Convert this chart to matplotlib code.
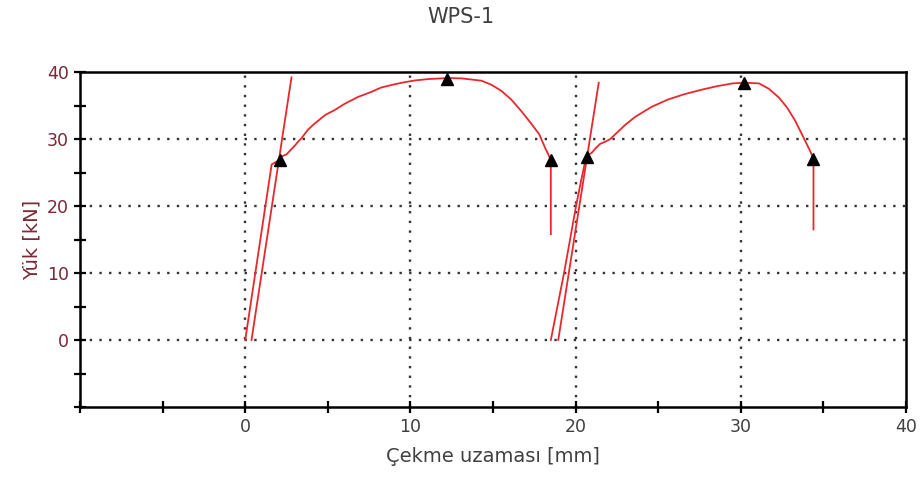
import matplotlib.pyplot as plt

# specimen 1 (x: mm, y: kN)
s1_x = [0.0, 1.6, 2.1, 2.2, 2.5, 2.8, 3.0, 3.2, 3.4, 3.8, 4.2, 4.85, 5.4, 6.05, 6.85,
        7.6, 8.25, 9.1, 9.7, 10.3, 11.1, 12.3, 13.1, 14.3, 14.9, 15.5, 16.1, 16.7,
        17.25, 17.8, 18.15, 18.5, 18.5]
s1_y = [0.0, 26.2, 26.9, 27.4, 27.7, 28.5, 29.0, 29.6, 30.1, 31.4, 32.3, 33.6, 34.3,
        35.3, 36.3, 37.0, 37.7, 38.2, 38.5, 38.75, 38.95, 39.1, 39.05, 38.7, 38.1,
        37.2, 35.9, 34.2, 32.5, 30.7, 28.7, 26.9, 15.8]
s1_fit_x = [0.38, 2.8]
s1_fit_y = [0.0, 39.2]
s1_mark_x = [2.1, 12.2, 18.5]
s1_mark_y = [26.9, 38.9, 26.9]

# specimen 2
s2_x = [18.5, 19.3, 20.05, 20.35, 20.55, 20.7, 21.0, 21.2, 21.5, 21.8, 22.1, 22.4,
        23.0, 23.6, 24.6, 25.6, 26.6, 27.7, 28.6, 29.5, 30.2, 31.1, 31.7, 32.3,
        32.8, 33.3, 33.9, 34.2, 34.4, 34.4]
s2_y = [0.0, 10.0, 20.3, 24.0, 26.3, 27.5, 28.0, 28.6, 29.3, 29.6, 30.0, 30.7,
        32.1, 33.3, 34.8, 35.9, 36.7, 37.4, 37.9, 38.3, 38.4, 38.3, 37.5, 36.2,
        34.7, 32.7, 29.7, 28.2, 27.0, 16.5]
s2_fit_x = [18.95, 21.4]
s2_fit_y = [0.0, 38.4]
s2_mark_x = [20.7, 30.2, 34.4]
s2_mark_y = [27.3, 38.3, 27.0]

xticks = [-10, 0, 10, 20, 30, 40]
xtick_labels = ["", "0", "10", "20", "30", "40"]
yticks = [-10, 0, 10, 20, 30, 40]
ytick_labels = ["", "0", "10", "20", "30", "40"]

red = "#e8282c"
label_red = "#7a2836"

fig = plt.figure(figsize=(9.21, 4.82), dpi=100)
ax = fig.add_axes([0.0869, 0.1556, 0.8968, 0.695])

for xs, ys in [(s1_x, s1_y), (s1_fit_x, s1_fit_y), (s2_x, s2_y), (s2_fit_x, s2_fit_y)]:
    ax.plot(xs, ys, color=red, lw=1.3, zorder=3)
ax.plot(s1_mark_x, s1_mark_y, "^", color="black", ms=8, zorder=4)
ax.plot(s2_mark_x, s2_mark_y, "^", color="black", ms=8, zorder=4)

ax.set_xlim(-10, 40)
ax.set_ylim(-10, 40)
ax.set_xticks(xticks, xtick_labels)
ax.set_yticks(yticks, ytick_labels)
ax.set_xticks(range(-5, 40, 10), minor=True)
ax.set_yticks(range(-5, 40, 10), minor=True)
ax.tick_params(which="both", direction="inout", length=9, width=1.6, labelsize=12.5)
ax.tick_params(axis="y", colors="black", labelcolor=label_red)
ax.tick_params(axis="x", colors="black", labelcolor="#404040")

for v in [0, 10, 20, 30]:
    ax.axvline(v, color="#333333", lw=1.7, ls=(0, (1, 3.1)), zorder=1)
    ax.axhline(v, color="#333333", lw=1.7, ls=(0, (1, 3.1)), zorder=1)

for sp in ax.spines.values():
    sp.set_linewidth(1.8)

ax.set_xlabel("Çekme uzaması [mm]", fontsize=14, color="#404040", labelpad=8)
ax.set_ylabel("Yük [kN]", fontsize=14, color=label_red, labelpad=4)
fig.text(0.5, 0.965, "WPS-1", ha="center", va="center", fontsize=15, color="#404040")

fig.savefig("out.png", dpi=100)
